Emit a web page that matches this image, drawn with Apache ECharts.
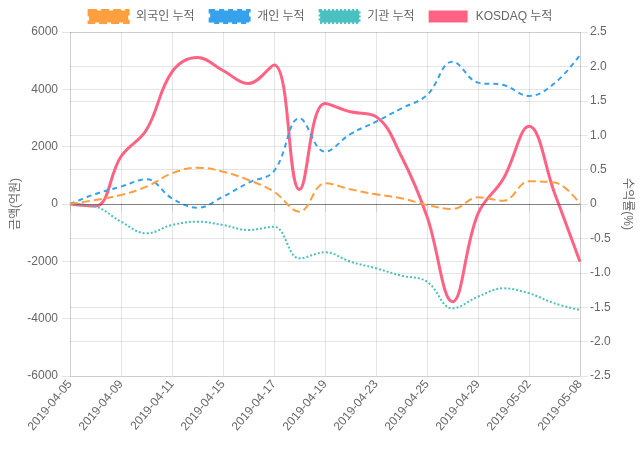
<!DOCTYPE html>
<html>
<head>
<meta charset="utf-8">
<script src="https://cdn.jsdelivr.net/npm/echarts@6/dist/echarts.min.js"></script>
<style>
html,body{margin:0;padding:0;background:#fff;}
#chart{width:640px;height:450px;}
</style>
</head>
<body>
<div id="chart"></div>
<script>
const dates = ['2019-04-05','2019-04-08','2019-04-09','2019-04-10','2019-04-11','2019-04-12','2019-04-15','2019-04-16','2019-04-17','2019-04-18','2019-04-19','2019-04-22','2019-04-23','2019-04-24','2019-04-25','2019-04-26','2019-04-29','2019-04-30','2019-05-02','2019-05-03','2019-05-08'];
const seriesNames = ['외국인 누적','개인 누적','기관 누적','KOSDAQ 누적'];
const foreign = [0,140,314,605,1070,1267,1128,837,430,-267,721,512,337,198,-35,-174,233,116,790,750,0];
const individual = [0,349,605,860,198,-128,256,744,1150,2988,1826,2442,2872,3337,3802,4965,4233,4151,3767,4209,5198];
const institution = [0,-93,-616,-1023,-733,-616,-733,-907,-791,-1896,-1686,-2012,-2244,-2500,-2710,-3640,-3233,-2942,-3116,-3465,-3698];
const kosdaq = [0,-0.03,0.69,1.08,1.92,2.13,1.94,1.75,2.02,0.21,1.46,1.34,1.27,0.69,-0.18,-1.42,-0.14,0.37,1.13,0.16,-0.84];
const leftAxisName = '금액(억원)';
const rightAxisName = '수익률(%)';

const FONT = "'Liberation Sans', Arial, 'Noto Sans CJK KR', sans-serif";
const GRID = 'rgba(0,0,0,0.1)';
const colors = ['rgb(255,159,64)','rgb(54,162,235)','rgb(75,192,192)','rgb(255,99,132)'];
const dashes = [[8,4],[5,4],[2,2],'solid'];
const widths = [2,2,2,3];
const datasets = [foreign, individual, institution, kosdaq];

const chart = echarts.init(document.getElementById('chart'), null, {renderer:'canvas'});
const series = datasets.map((d, i) => ({
  name: seriesNames[i],
  type: 'line',
  data: d,
  yAxisIndex: i === 3 ? 1 : 0,
  smooth: 0.4,
  showSymbol: false,
  symbol: 'none',
  z: 5 - i,
  lineStyle: {color: colors[i], width: widths[i], type: dashes[i]},
  itemStyle: {color: colors[i]},
  animation: false
}));
series[0].markLine = {
  silent: true, symbol: 'none', animation: false,
  label: {show: false},
  lineStyle: {color: 'rgba(0,0,0,0.3)', width: 1, type: 'solid'},
  data: [{yAxis: 0}]
};

chart.setOption({
  animation: false,
  textStyle: {fontFamily: FONT},
  legend: {
    top: 4, left: 'center',
    itemWidth: 39, itemHeight: 12, itemGap: 14,
    textStyle: {fontFamily: FONT, fontSize: 12, color: '#666', padding: [0, 0, 0, 3]},
    data: seriesNames.map((n, i) => ({
      name: n, icon: 'rect',
      itemStyle: {color: colors[i], borderColor: colors[i], borderWidth: i === 3 ? 0 : 3, borderType: i === 3 ? 'solid' : dashes[i]}
    }))
  },
  grid: {left: 70, right: 60, top: 32, bottom: 74, containLabel: false, outerBoundsMode: 'none'},
  xAxis: {
    type: 'category', data: dates, boundaryGap: false,
    axisLine: {show: true, lineStyle: {color: GRID}},
    axisTick: {show: true, interval: 1, length: 8, lineStyle: {color: GRID}},
    axisLabel: {interval: 1, rotate: 50, color: '#666', fontSize: 12, fontFamily: FONT, margin: 6},
    splitLine: {show: true, interval: 1, lineStyle: {color: GRID}}
  },
  yAxis: [{
    type: 'value', min: -6000, max: 6000, interval: 2000, position: 'left',
    name: leftAxisName, nameLocation: 'middle', nameGap: 48, nameRotate: 90, nameMoveOverlap: false,
    nameTextStyle: {color: '#666', fontSize: 12, fontFamily: FONT},
    axisLine: {show: true, lineStyle: {color: GRID}},
    axisTick: {show: true, length: 8, lineStyle: {color: GRID}},
    axisLabel: {color: '#666', fontSize: 12, fontFamily: FONT, margin: 12,
      formatter: v => String(v)},
    splitLine: {show: true, lineStyle: {color: GRID}}
  }, {
    type: 'value', min: -2.5, max: 2.5, interval: 0.5, position: 'right',
    name: rightAxisName, nameLocation: 'middle', nameGap: 41, nameRotate: -90, nameMoveOverlap: false,
    nameTextStyle: {color: '#666', fontSize: 12, fontFamily: FONT},
    axisLine: {show: true, lineStyle: {color: GRID}},
    axisTick: {show: true, length: 8, lineStyle: {color: GRID}},
    axisLabel: {color: '#666', fontSize: 12, fontFamily: FONT, margin: 10,
      formatter: v => v === 0 ? '0' : v.toFixed(1)},
    splitLine: {show: true, lineStyle: {color: GRID}}
  }],
  series: series
});
</script>
</body>
</html>
